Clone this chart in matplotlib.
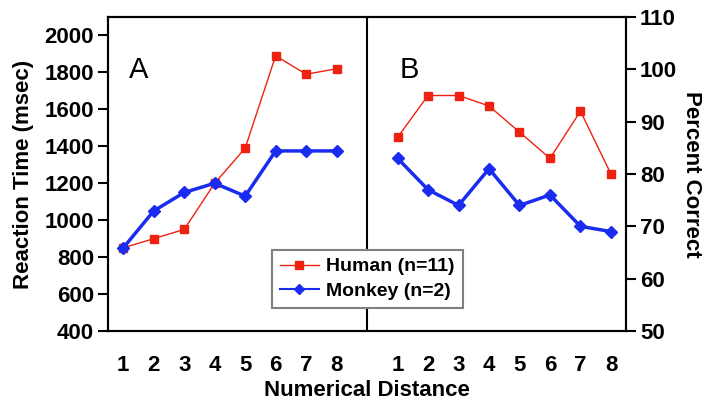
import numpy as np
import matplotlib.pyplot as plt
from matplotlib.lines import Line2D

plt.rcParams['font.family'] = ['Liberation Sans', 'DejaVu Sans']

dist = [1, 2, 3, 4, 5, 6, 7, 8]
human_rt = [850, 900, 950, 1200, 1390, 1890, 1790, 1820]
monkey_rt = [850, 1050, 1150, 1200, 1130, 1375, 1375, 1375]
human_pc = [87, 95, 95, 93, 88, 83, 92, 80]
monkey_pc = [83, 77, 74, 81, 74, 76, 70, 69]

red = '#ee2211'
blue = '#1a2cf0'

fig = plt.figure(figsize=(7.05, 4.04), dpi=100)
ax = fig.add_axes([0.1532, 0.1807, 0.735, 0.7772])
ax2 = ax.twinx()

# panel A on 1-8, panel B shifted to 10-17
xa = np.array(dist)
xb = xa + 9

ax.plot(xa, human_rt, color=red, lw=1, marker='s', ms=6, zorder=3)
ax.plot(xa, monkey_rt, color=blue, lw=2.5, marker='D', ms=6.5, zorder=3)
ax2.plot(xb, human_pc, color=red, lw=1, marker='s', ms=6, zorder=3)
ax2.plot(xb, monkey_pc, color=blue, lw=2.5, marker='D', ms=6.5, zorder=3)

ax.set_xlim(0.5, 17.5)
ax.set_ylim(400, 2100)
ax.set_yticks(range(400, 2001, 200))
ax2.set_ylim(50, 110)
ax2.set_yticks(range(50, 111, 10))

ax.set_xticks(list(xa) + list(xb))
ax.set_xticklabels([str(d) for d in dist] * 2)
ax.tick_params(axis='x', length=0, pad=17, labelsize=16)
ax.tick_params(axis='y', length=7, width=1.5, direction='out', labelsize=16, pad=3)
ax2.tick_params(axis='y', length=7, width=1.5, direction='out', labelsize=16, pad=3)
for t in ax.get_xticklabels() + ax.get_yticklabels() + ax2.get_yticklabels():
    t.set_fontweight('bold')

for a in (ax, ax2):
    for s in a.spines.values():
        s.set_linewidth(1.5)

ax.axvline(9, color='black', lw=1.5)

ax.text(1.5, 1815, 'A', fontsize=21, va='center', ha='center')
ax.text(10.4, 1815, 'B', fontsize=21, va='center', ha='center')

ax.set_ylabel('Reaction Time (msec)', fontsize=16, fontweight='bold', labelpad=8)
ax2.set_ylabel('Percent Correct', fontsize=16, fontweight='bold', rotation=270, labelpad=18)
ax.set_xlabel('Numerical Distance', fontsize=16, fontweight='bold', labelpad=3)

handles = [
    Line2D([], [], color=red, lw=1, marker='s', ms=5.5),
    Line2D([], [], color=blue, lw=1.5, marker='D', ms=5.5),
]
leg = fig.legend(handles, ['Human (n=11)', 'Monkey (n=2)'],
                 loc='upper left', bbox_to_anchor=(272 / 705, 1 - 250 / 404),
                 frameon=True, fancybox=False, framealpha=1,
                 prop={'weight': 'bold', 'size': 14}, handlelength=2.0,
                 borderpad=0.4, labelspacing=0.35, handletextpad=0.4,
                 borderaxespad=0)
leg.get_frame().set_edgecolor('#808080')
leg.get_frame().set_linewidth(1.5)

fig.savefig('out.png', dpi=100)
